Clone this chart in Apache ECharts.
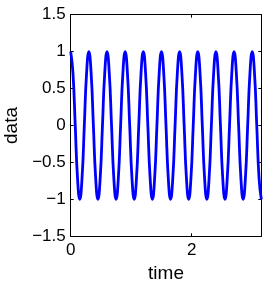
<!DOCTYPE html>
<html>
<head>
<meta charset="utf-8">
<script src="https://cdn.jsdelivr.net/npm/echarts@6/dist/echarts.min.js"></script>
<style>html,body{margin:0;padding:0;background:#fff}#c{width:265px;height:281px}</style>
</head>
<body>
<div id="c"></div>
<script>
// Points (period ~0.3): peaks, half-way heights, crossings, troughs
var time = [
  0, 0.0375, 0.075, 0.1125, 0.15, 0.1875, 0.225, 0.2625,
  0.3, 0.3375, 0.375, 0.4125, 0.45, 0.4875, 0.525, 0.5625,
  0.6, 0.6375, 0.675, 0.7125, 0.75, 0.7875, 0.825, 0.8625,
  0.9, 0.9375, 0.975, 1.0125, 1.05, 1.0875, 1.125, 1.1625,
  1.2, 1.2375, 1.275, 1.3125, 1.35, 1.3875, 1.425, 1.4625,
  1.5, 1.5375, 1.575, 1.6125, 1.65, 1.6875, 1.725, 1.7625,
  1.8, 1.8375, 1.875, 1.9125, 1.95, 1.9875, 2.025, 2.0625,
  2.1, 2.1375, 2.175, 2.2125, 2.25, 2.2875, 2.325, 2.3625,
  2.4, 2.4375, 2.475, 2.5125, 2.55, 2.5875, 2.625, 2.6625,
  2.7, 2.7375, 2.775, 2.8125, 2.85, 2.8875, 2.925, 2.9625,
  3.0, 3.0375, 3.075, 3.1125, 3.15];
var data = [
  1, 0.71, 0, -0.71, -1, -0.71, 0, 0.71,
  1, 0.71, 0, -0.71, -1, -0.71, 0, 0.71,
  1, 0.71, 0, -0.71, -1, -0.71, 0, 0.71,
  1, 0.71, 0, -0.71, -1, -0.71, 0, 0.71,
  1, 0.71, 0, -0.71, -1, -0.71, 0, 0.71,
  1, 0.71, 0, -0.71, -1, -0.71, 0, 0.71,
  1, 0.71, 0, -0.71, -1, -0.71, 0, 0.71,
  1, 0.71, 0, -0.71, -1, -0.71, 0, 0.71,
  1, 0.71, 0, -0.71, -1, -0.71, 0, 0.71,
  1, 0.71, 0, -0.71, -1, -0.71, 0, 0.71,
  1, 0.71, 0, -0.71, -1];
var xTickLabels = [0, 2];
var yTicks = [-1.5, -1, -0.5, 0, 0.5, 1, 1.5];

var pts = time.map(function (t, i) { return [t, data[i]]; });
var font = 'Liberation Sans, Arial, Helvetica, sans-serif';
var chart = echarts.init(document.getElementById('c'), null, { renderer: 'canvas' });
var lineStyle = { color: '#000', width: 1 };
var tick = { inside: true, length: 3, lineStyle: { color: '#000', width: 1 } };
chart.setOption({
  animation: false,
  grid: { left: 70.7, right: 3.7, top: 14.7, bottom: 44.7, containLabel: false, outerBoundsMode: 'none' },
  xAxis: [{
    type: 'value', min: 0, max: 3.15, interval: 2, position: 'bottom',
    name: 'time', nameLocation: 'middle', nameGap: 22,
    nameTextStyle: { color: '#000', fontSize: 19, fontFamily: font },
    axisLine: { show: true, onZero: false, lineStyle: lineStyle },
    axisTick: tick,
    splitLine: { show: false },
    axisLabel: { color: '#000', fontSize: 17, fontFamily: font, margin: 6,
      formatter: function (v) { return xTickLabels.indexOf(v) >= 0 ? String(v) : ''; } }
  }, {
    type: 'value', min: 0, max: 3.15, interval: 2, position: 'top',
    axisLine: { show: true, onZero: false, lineStyle: lineStyle },
    axisTick: tick, axisLabel: { show: false }, splitLine: { show: false }
  }],
  yAxis: [{
    type: 'value', min: -1.5, max: 1.5, interval: 0.5, position: 'left',
    name: 'data', nameLocation: 'middle', nameGap: 44,
    nameTextStyle: { color: '#000', fontSize: 19, fontFamily: font },
    axisLine: { show: true, onZero: false, lineStyle: lineStyle },
    axisTick: tick,
    splitLine: { show: false },
    axisLabel: { color: '#000', fontSize: 17, fontFamily: font, margin: 5,
      formatter: function (v) { return yTicks.indexOf(v) >= 0 ? String(v).replace('-', '\u2212') : ''; } }
  }, {
    type: 'value', min: -1.5, max: 1.5, interval: 0.5, position: 'right',
    axisLine: { show: true, onZero: false, lineStyle: lineStyle },
    axisTick: tick, axisLabel: { show: false }, splitLine: { show: false }
  }],
  series: [{
    type: 'line', data: pts, xAxisIndex: 0, yAxisIndex: 0,
    smooth: 0.5, showSymbol: false, symbol: 'none',
    lineStyle: { color: '#0000ff', width: 2.8 }
  }]
});
</script>
</body>
</html>
